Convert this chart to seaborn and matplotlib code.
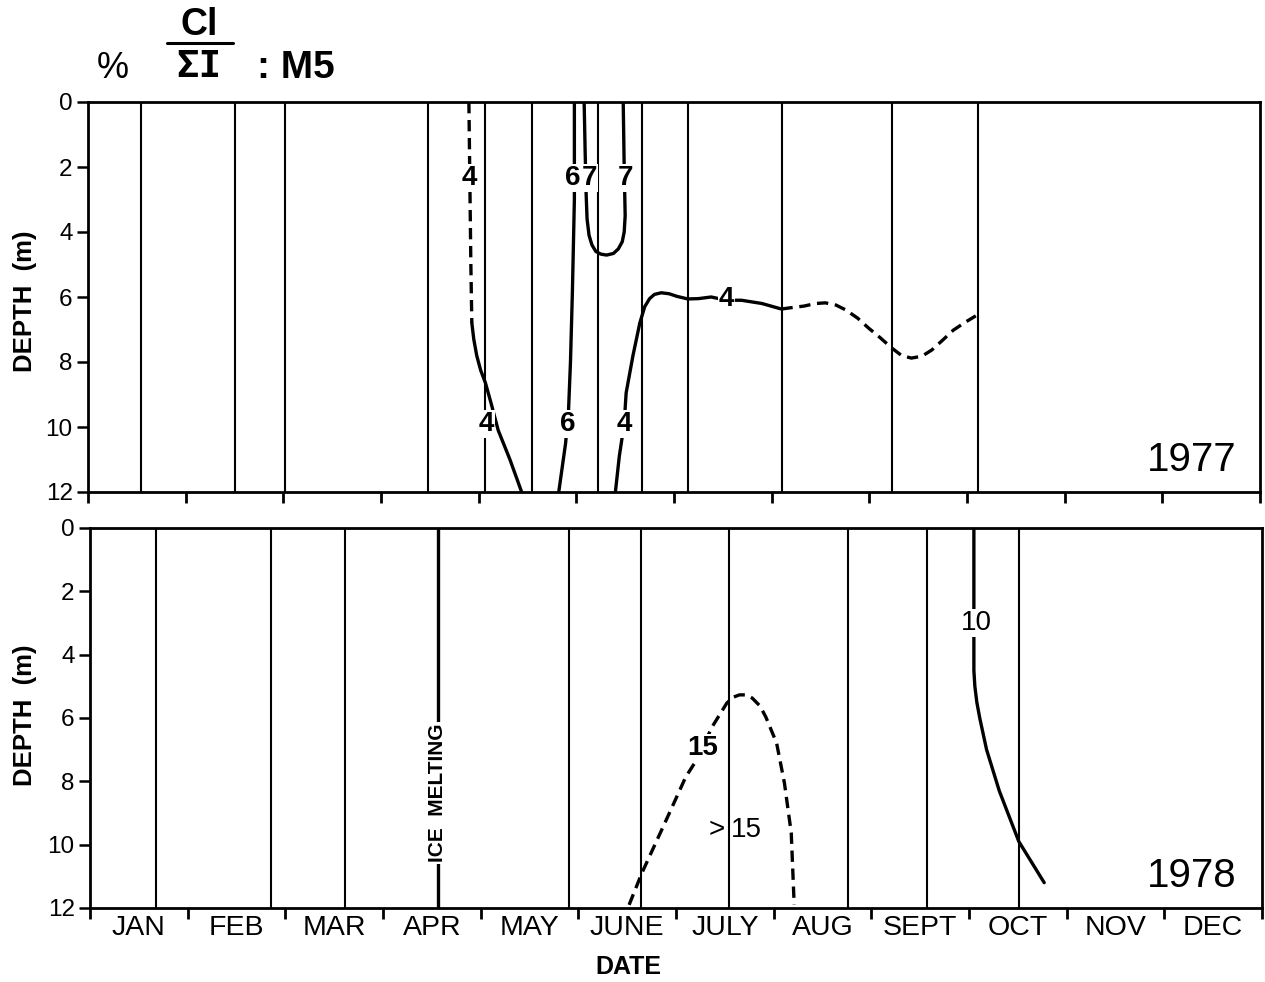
import numpy as np
import pandas as pd
import matplotlib
matplotlib.use("Agg")
import matplotlib.pyplot as plt
import seaborn as sns

# ---------------- data ----------------
months = ["JAN", "FEB", "MAR", "APR", "MAY", "JUNE", "JULY", "AUG",
          "SEPT", "OCT", "NOV", "DEC"]
depth_ticks = [0, 2, 4, 6, 8, 10, 12]

# sampling dates (month units from 1 Jan)
sampling_1977 = [0.54, 1.50, 2.02, 3.48, 4.06, 4.55, 5.22, 5.67, 6.14, 7.11, 8.23, 9.11]
sampling_1978 = [0.68, 1.85, 2.61, 4.90, 5.64, 6.54, 7.76, 8.57, 9.51]
ice_melting_1978 = [3.56]

# 1977 isolines (x = month, d = depth m)
c4a_dash_x = [3.90, 3.91, 3.92, 3.93]
c4a_dash_d = [0.0, 2.5, 5.0, 6.8]
c4a_x = [3.93, 3.95, 3.98, 4.02, 4.07, 4.13, 4.20, 4.32, 4.44]
c4a_d = [6.8, 7.3, 7.8, 8.25, 8.65, 9.3, 10.1, 11.0, 12.0]

c6_x = [4.98, 4.98, 4.96, 4.94, 4.92, 4.89, 4.82]
c6_d = [0.0, 3.0, 5.8, 8.0, 9.5, 10.5, 12.0]

c7_x = [5.08, 5.09, 5.10, 5.11, 5.13, 5.16, 5.20, 5.25, 5.31, 5.38, 5.43, 5.47, 5.49, 5.50, 5.49, 5.48]
c7_d = [0.0, 1.5, 2.8, 3.6, 4.1, 4.4, 4.6, 4.68, 4.71, 4.66, 4.52, 4.3, 4.0, 3.5, 2.0, 0.0]

c4b_x = [5.40, 5.44, 5.49, 5.51, 5.58, 5.65, 5.70, 5.75, 5.80, 5.87, 5.95, 6.03, 6.14, 6.25, 6.38, 6.54, 6.69, 6.90, 7.10]
c4b_d = [12.0, 10.9, 9.9, 8.95, 7.8, 6.8, 6.3, 6.05, 5.92, 5.87, 5.9, 5.98, 6.06, 6.05, 6.0, 6.1, 6.1, 6.2, 6.37]
c4b_dash_x = [7.10, 7.22, 7.33, 7.45, 7.55, 7.66, 7.76, 7.88, 7.99, 8.11, 8.23, 8.33, 8.43, 8.54, 8.64, 8.75, 8.86, 8.98, 9.09]
c4b_dash_d = [6.37, 6.32, 6.28, 6.2, 6.18, 6.25, 6.4, 6.65, 6.95, 7.25, 7.57, 7.8, 7.88, 7.82, 7.63, 7.33, 7.02, 6.78, 6.58]

# 1978 isolines
c15_x = [5.52, 5.65, 5.90, 6.10, 6.21, 6.37, 6.52, 6.58, 6.65, 6.72, 6.78, 6.86, 6.92, 7.03, 7.11, 7.18, 7.21]
c15_d = [11.9, 10.9, 9.22, 7.86, 7.33, 6.28, 5.53, 5.35, 5.27, 5.27, 5.37, 5.62, 5.97, 6.79, 8.05, 9.63, 11.9]
c10_x = [9.05, 9.05, 9.05, 9.06, 9.08, 9.11, 9.18, 9.31, 9.51, 9.77]
c10_d = [0.0, 3.0, 4.5, 5.0, 5.5, 6.0, 7.0, 8.3, 9.9, 11.2]

# ---------------- style ----------------
sns.set_style("white")
plt.rcParams["font.family"] = ["Liberation Sans", "DejaVu Sans"]
plt.rcParams["text.color"] = "black"
plt.rcParams["xtick.color"] = "black"
plt.rcParams["ytick.color"] = "black"
plt.rcParams["axes.labelcolor"] = "black"

W, H = 1265, 982
fig = plt.figure(figsize=(W / 100, H / 100), dpi=100)
ax1 = fig.add_axes([88 / W, 1 - 492 / H, (1260 - 88) / W, 390 / H])
ax2 = fig.add_axes([90 / W, 1 - 908 / H, (1262 - 90) / W, 380 / H])

LWC = 2.4
DASH = (3.4, 2.0)


def curve(ax, xs, ds, dashed=False, lw=LWC):
    df = pd.DataFrame({"x": xs, "d": ds})
    sns.lineplot(data=df, x="x", y="d", ax=ax, sort=False, estimator=None,
                 color="black", lw=lw, solid_capstyle="round",
                 dashes=False, linestyle="--" if dashed else "-")
    if dashed:
        ax.lines[-1].set_dashes(DASH)
    ax.set_xlabel("")
    ax.set_ylabel("")


def label(ax, x, d, s, bold=True, size=20, bg=True, ha="center"):
    ax.text(x, d, s, ha=ha, va="center", fontsize=size, color="black",
            fontweight="bold" if bold else "normal", zorder=10,
            bbox=dict(facecolor="white", edgecolor="none", pad=0.5) if bg else None)


# 1977 curves
curve(ax1, c4a_dash_x, c4a_dash_d, dashed=True)
curve(ax1, c4a_x, c4a_d)
curve(ax1, c6_x, c6_d)
curve(ax1, c7_x, c7_d)
curve(ax1, c4b_x, c4b_d)
curve(ax1, c4b_dash_x, c4b_dash_d, dashed=True)

# 1978 curves
curve(ax2, c15_x, c15_d, dashed=True)
curve(ax2, c10_x, c10_d)

for ax, samp in ((ax1, sampling_1977), (ax2, sampling_1978)):
    ax.set_xlim(0, 12)
    ax.set_ylim(12, 0)
    ax.vlines(samp, 0, 12, color="black", lw=1.5, zorder=2)
    for sp in ax.spines.values():
        sp.set_linewidth(2.0)
        sp.set_color("black")
    ax.set_yticks(depth_ticks)
    ax.set_yticklabels([str(t) for t in depth_ticks], fontsize=17.5)
    ax.set_xticks(range(13))
    ax.set_xticks([i + 0.5 for i in range(12)], minor=True)
    ax.tick_params(axis="x", which="major", direction="out", length=8, width=2,
                   labelbottom=False, bottom=True, colors="black")
    ax.tick_params(axis="x", which="minor", length=0, pad=5, labelsize=20.5,
                   bottom=True, colors="black")
    ax.tick_params(axis="y", direction="out", length=8, width=1.8, left=True, pad=3,
                   colors="black")

ax1.set_xticklabels([], minor=True)
ax2.set_xticklabels(months, minor=True)

# y-axis titles
fig.text(25 / W, 1 - 301 / H, "DEPTH  (m)", rotation=90, ha="center", va="center",
         fontsize=18.5, fontweight="bold")
fig.text(25 / W, 1 - 715 / H, "DEPTH  (m)", rotation=90, ha="center", va="center",
         fontsize=18.5, fontweight="bold")

label(ax1, 3.90, 2.34, "4")
label(ax1, 4.96, 2.34, "6")
label(ax1, 5.13, 2.34, "7")
label(ax1, 5.50, 2.34, "7")
label(ax1, 4.08, 9.9, "4")
label(ax1, 4.91, 9.9, "6")
label(ax1, 5.49, 9.9, "4")
label(ax1, 6.54, 6.05, "4")
ax1.text(11.76, 11.35, "1977", ha="right", va="baseline", fontsize=29)

ax2.vlines(ice_melting_1978, 0, 12, color="black", lw=2.4, zorder=2)
ax2.text(ice_melting_1978[0], 8.37, "ICE  MELTING", rotation=90, ha="center",
         va="center", fontsize=15, fontweight="bold", zorder=10,
         bbox=dict(facecolor="white", edgecolor="none", pad=1))
label(ax2, 6.27, 6.95, "15")
ax2.text(6.50, 9.55, ">", ha="right", va="center", fontsize=20, zorder=10)
ax2.text(6.56, 9.55, "15", ha="left", va="center", fontsize=20, zorder=10)
label(ax2, 9.08, 3.0, "10", bold=False, size=20)
ax2.text(11.74, 11.35, "1978", ha="right", va="baseline", fontsize=29)

# axis title DATE
fig.text(628 / W, 1 - 967 / H, "DATE", ha="center", va="center",
         fontsize=18, fontweight="bold")

# title  % Cl/ΣI : M5
fig.text(113 / W, 1 - 68 / H, "%", ha="center", va="center", fontsize=26)
fig.text(199 / W, 1 - 25 / H, "Cl", ha="center", va="center", fontsize=27,
         fontweight="bold")
fig.add_artist(plt.Line2D([167 / W, 233 / W], [1 - 43 / H, 1 - 43 / H],
                          color="black", lw=2.2))
fig.text(199 / W, 1 - 67 / H, "ΣI", ha="center", va="center", fontsize=27,
         fontweight="bold", family="DejaVu Sans Mono")
fig.text(257 / W, 1 - 68 / H, ": M5", ha="left", va="center", fontsize=28,
         fontweight="bold")

fig.savefig("out.png", dpi=100, facecolor="white")
